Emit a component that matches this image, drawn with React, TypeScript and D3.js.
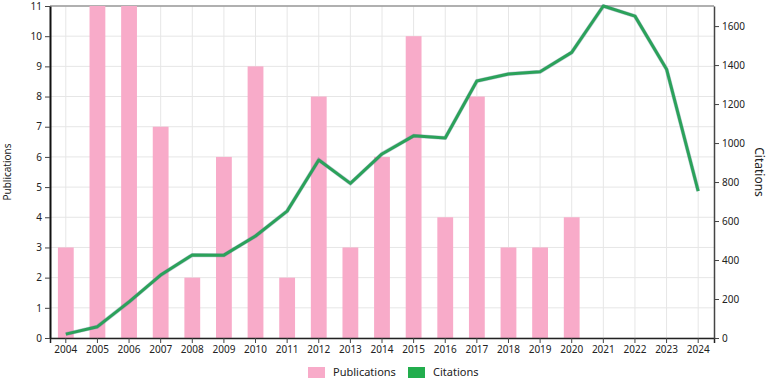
import React, { useRef, useEffect } from 'react';
import * as d3 from 'd3';

const years = ['2004', '2005', '2006', '2007', '2008', '2009', '2010', '2011', '2012', '2013', '2014',
  '2015', '2016', '2017', '2018', '2019', '2020', '2021', '2022', '2023', '2024'];
const publications = [3, 11, 11, 7, 2, 6, 9, 2, 8, 3, 6, 10, 4, 8, 3, 3, 4, 0, 0, 0, 0];
const citations = [20, 58, 185, 323, 426, 425, 523, 651, 913, 793, 944, 1037, 1026, 1318, 1354, 1366,
  1465, 1703, 1651, 1379, 754];
const leftTicks = [0, 1, 2, 3, 4, 5, 6, 7, 8, 9, 10, 11];
const rightTicks = [0, 200, 400, 600, 800, 1000, 1200, 1400, 1600];

const FONT = '"Noto Sans", "Open Sans", sans-serif';
const BAR = '#f8abc9';
const LINE = '#2ba25a';

const App = () => {
  const svgRef = useRef<SVGSVGElement>(null);

  useEffect(() => {
    const width = 767;
    const height = 381;
    const m = { top: 6, right: 53, bottom: 43, left: 50 };
    const innerW = width - m.left - m.right;
    const innerH = height - m.top - m.bottom;

    const svg = d3.select(svgRef.current)
      .attr('width', width)
      .attr('height', height)
      .style('font-family', FONT);
    svg.selectAll('*').remove();

    const g = svg.append('g').attr('transform', `translate(${m.left},${m.top})`);

    const x = d3.scaleBand().domain(years).range([0, innerW]).padding(0.5).paddingOuter(0.25);
    const yL = d3.scaleLinear().domain([0, d3.max(publications)!]).range([innerH, 0]);
    const yR = d3.scaleLinear().domain([0, d3.max(citations)!]).range([innerH, 0]);

    // grid
    g.append('g').selectAll('line').data(years).join('line')
      .attr('x1', d => x(d)! + x.bandwidth() / 2).attr('x2', d => x(d)! + x.bandwidth() / 2)
      .attr('y1', 0).attr('y2', innerH)
      .attr('stroke', '#e6e6e6');
    g.append('g').selectAll('line').data(leftTicks).join('line')
      .attr('x1', 0).attr('x2', innerW)
      .attr('y1', d => yL(d)).attr('y2', d => yL(d))
      .attr('stroke', '#e6e6e6');

    // top border
    g.append('line').attr('x1', 0).attr('x2', innerW).attr('y1', 0).attr('y2', 0)
      .attr('stroke', '#9a9a9a').attr('stroke-width', 1.5);

    // bars
    g.append('g').selectAll('rect').data(publications).join('rect')
      .attr('x', (d, i) => x(years[i])!)
      .attr('y', d => yL(d))
      .attr('width', x.bandwidth())
      .attr('height', d => innerH - yL(d))
      .attr('fill', BAR);

    // citations line
    const line = d3.line<number>()
      .x((d, i) => x(years[i])! + x.bandwidth() / 2)
      .y(d => yR(d));
    g.append('path').datum(citations)
      .attr('d', line)
      .attr('fill', 'none')
      .attr('stroke', '#4a6a8a')
      .attr('stroke-opacity', 0.35)
      .attr('stroke-width', 4);
    g.append('path').datum(citations)
      .attr('d', line)
      .attr('fill', 'none')
      .attr('stroke', LINE)
      .attr('stroke-width', 3)
      .attr('stroke-linejoin', 'round');

    // axes
    const axX = g.append('g').attr('transform', `translate(0,${innerH})`)
      .call(d3.axisBottom(x).tickSizeOuter(6).tickSize(5));
    axX.select('.domain').attr('stroke', '#222').attr('stroke-width', 1.5);

    const axL = g.append('g').call(d3.axisLeft(yL).tickValues(leftTicks).tickSize(5).tickSizeOuter(0));
    axL.select('.domain').attr('stroke', '#111').attr('stroke-width', 2);

    const axR = g.append('g').attr('transform', `translate(${innerW},0)`)
      .call(d3.axisRight(yR).tickValues(rightTicks).tickFormat(d3.format('d')).tickSize(5).tickSizeOuter(0));
    axR.select('.domain').attr('stroke', '#444').attr('stroke-width', 1.5);

    [axX, axL, axR].forEach(a => {
      a.selectAll('text').attr('font-size', 10).attr('fill', '#222').attr('font-family', FONT);
      a.selectAll('.tick line').attr('stroke', '#444');
    });

    // axis titles
    svg.append('text')
      .attr('transform', `translate(11,${m.top + innerH / 2}) rotate(-90)`)
      .attr('text-anchor', 'middle')
      .attr('font-size', 10)
      .attr('fill', '#222')
      .text('Publications');
    svg.append('text')
      .attr('transform', `translate(755,${m.top + innerH / 2}) rotate(90)`)
      .attr('text-anchor', 'middle')
      .attr('font-size', 12)
      .attr('fill', '#222')
      .text('Citations');

    // legend
    const legend = svg.append('g').attr('transform', 'translate(308,367)');
    const items = [
      { label: 'Publications', color: BAR, dx: 0 },
      { label: 'Citations', color: '#22ad4d', dx: 100 },
    ];
    items.forEach(it => {
      const li = legend.append('g').attr('transform', `translate(${it.dx},0)`);
      li.append('rect').attr('width', 17).attr('height', 11).attr('fill', it.color);
      li.append('text').attr('x', 25).attr('y', 5.5).attr('dy', '0.35em')
        .attr('font-size', 11).attr('fill', '#222').text(it.label);
    });
  }, []);

  return <svg ref={svgRef} style={{ display: 'block', position: 'absolute', left: 0, top: 0 }}></svg>;
};

export default App;
